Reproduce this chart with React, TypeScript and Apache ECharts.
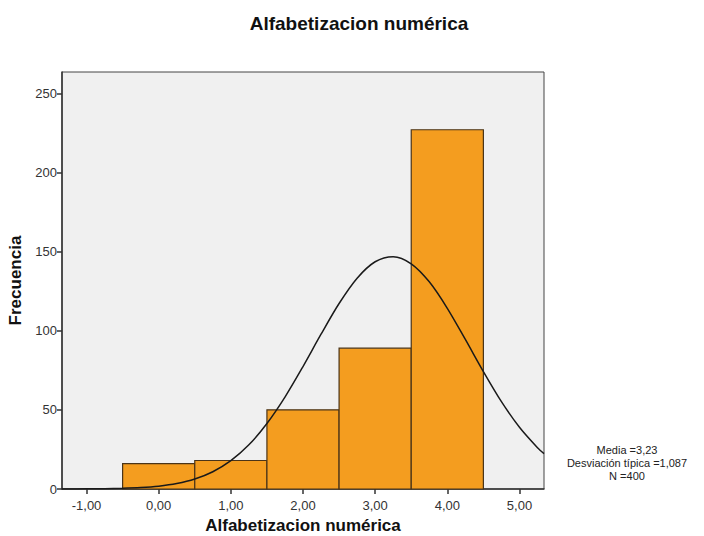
import React, { useEffect, useRef } from "react";
import * as echarts from "echarts";

const chartTitle = "Alfabetizacion numérica";
const xAxisName = "Alfabetizacion numérica";
const yAxisName = "Frecuencia";

const binStarts = [-0.5, 0.5, 1.5, 2.5, 3.5];
const binEnds = [0.5, 1.5, 2.5, 3.5, 4.5];
const counts = [16, 18, 50, 89, 227];

const xTicks = [-1, 0, 1, 2, 3, 4, 5];
const yTicks = [0, 50, 100, 150, 200, 250];

// Normal curve (Media 3,23, Desv. 1,087, N 400)
const curveX = [-1.34, -1.25, -1, -0.75, -0.5, -0.25, 0, 0.25, 0.5, 0.75, 1, 1.25, 1.5, 1.75, 2, 2.25, 2.5, 2.75, 3, 3.25, 3.5, 3.75, 4, 4.25, 4.5, 4.75, 5, 5.25, 5.34];
const curveY = [0.02, 0.03, 0.08, 0.18, 0.41, 0.87, 1.77, 3.43, 6.27, 10.9, 17.9, 27.9, 41.4, 58.1, 77.4, 97.8, 117.2, 133.2, 143.6, 146.8, 142.3, 130.9, 114.2, 94.5, 74.2, 55.2, 39.0, 26.1, 22.4];

const statsLines = ["Media =3,23", "Desviación típica =1,087", "N =400"];

const fmt = (v: number) => v.toFixed(2).replace(".", ",");

export default function App() {
  const ref = useRef<HTMLDivElement>(null);
  useEffect(() => {
    document.body.style.margin = "0";
    if (!ref.current) return;
    const chart = echarts.init(ref.current, undefined, { renderer: "svg" });
    const font = "'Liberation Sans', Arial, sans-serif";
    chart.setOption({
      animation: false,
      backgroundColor: "#ffffff",
      textStyle: { fontFamily: font },
      title: {
        text: chartTitle,
        left: 354,
        top: 9,
        textAlign: "center",
        textStyle: { fontSize: 19, fontWeight: "bold", color: "#111", fontFamily: font },
      },
      grid: {
        left: 62,
        top: 72,
        right: 160,
        bottom: 47,
        outerBoundsMode: "none",
        containLabel: false,
        show: true,
        backgroundColor: "#f0f0f0",
        borderColor: "#444",
        borderWidth: 1,
      },
      xAxis: {
        type: "value",
        min: -1.34,
        max: 5.34,
        name: xAxisName,
        nameLocation: "middle",
        nameGap: 28,
        nameTextStyle: { fontSize: 17, fontWeight: "bold", color: "#111", fontFamily: font },
        axisLine: { show: true, onZero: false, lineStyle: { color: "#333", width: 1.5 } },
        axisTick: { show: true, customValues: xTicks, length: 5, lineStyle: { color: "#333", width: 1.5 } },
        axisLabel: { customValues: xTicks, formatter: (v: number) => fmt(v), fontSize: 13, color: "#333", margin: 10, fontFamily: font },
        splitLine: { show: false },
      },
      yAxis: {
        type: "value",
        min: 0,
        max: 263.5,
        name: yAxisName,
        nameLocation: "middle",
        nameGap: 32,
        nameTextStyle: { fontSize: 17, fontWeight: "bold", color: "#111", fontFamily: font },
        axisLine: { show: true, onZero: false, lineStyle: { color: "#333", width: 1.5 } },
        axisTick: { show: true, customValues: yTicks, length: 5, lineStyle: { color: "#333", width: 1.5 } },
        axisLabel: { customValues: yTicks, fontSize: 13, color: "#333", margin: 5, fontFamily: font },
        splitLine: { show: false },
      },
      series: [
        {
          type: "custom",
          data: binStarts.map((s, i) => [s, binEnds[i], counts[i]]),
          encode: { x: [0, 1], y: 2 },
          renderItem: (params: any, api: any) => {
            const p0 = api.coord([api.value(0), api.value(2)]);
            const p1 = api.coord([api.value(1), 0]);
            return {
              type: "rect",
              shape: { x: p0[0], y: p0[1], width: p1[0] - p0[0], height: p1[1] - p0[1] },
              style: { fill: "#f49d1f", stroke: "#4a3418", lineWidth: 1.2 },
            };
          },
          z: 2,
        },
        {
          type: "line",
          data: curveX.map((x, i) => [x, curveY[i]]),
          smooth: 0.3,
          symbol: "none",
          clip: true,
          lineStyle: { color: "#1a1a1a", width: 1.5 },
          z: 3,
        },
      ],
      graphic: statsLines.map((t, i) => ({
        type: "text",
        x: 627,
        y: 444 + i * 13,
        style: { text: t, fontSize: 11, fill: "#222", textAlign: "center", fontFamily: font },
      })),
    });
    return () => chart.dispose();
  }, []);
  return <div ref={ref} style={{ width: 704, height: 536 }} />;
}
